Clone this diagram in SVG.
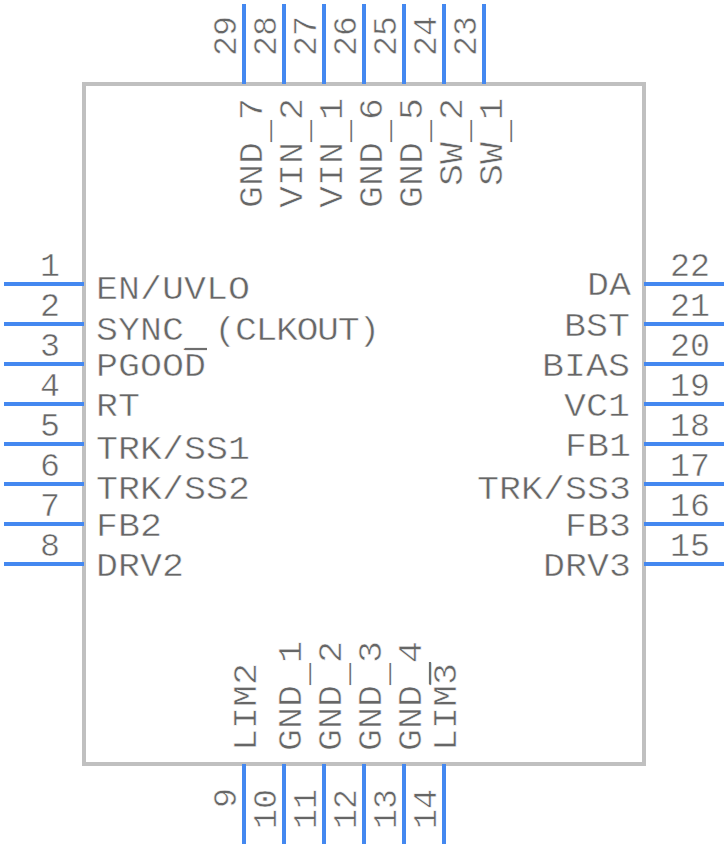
<svg xmlns="http://www.w3.org/2000/svg" width="728" height="848" viewBox="0 0 728 848">
<style>
text{font-family:"Liberation Mono",monospace;font-size:33.3px;fill:#666;stroke:#fff;stroke-width:.5px}
.e{text-anchor:end}
.u{stroke:none;fill:#707070}
.pin line{stroke:#4488f0;stroke-width:4}
.bar{stroke:#6e6e6e;stroke-width:2.2}
</style>
<rect width="728" height="848" fill="#fff"/>
<g id="body"><rect x="84" y="84" width="560" height="680" fill="#fff" stroke="#c0c0c0" stroke-width="4"/></g>
<g id="connectors" class="pin">
<line x1="4" y1="284" x2="84" y2="284"/><line x1="4" y1="324" x2="84" y2="324"/><line x1="4" y1="364" x2="84" y2="364"/><line x1="4" y1="404" x2="84" y2="404"/><line x1="4" y1="444" x2="84" y2="444"/><line x1="4" y1="484" x2="84" y2="484"/><line x1="4" y1="524" x2="84" y2="524"/><line x1="4" y1="564" x2="84" y2="564"/>
<line x1="644" y1="284" x2="724" y2="284"/><line x1="644" y1="324" x2="724" y2="324"/><line x1="644" y1="364" x2="724" y2="364"/><line x1="644" y1="404" x2="724" y2="404"/><line x1="644" y1="444" x2="724" y2="444"/><line x1="644" y1="484" x2="724" y2="484"/><line x1="644" y1="524" x2="724" y2="524"/><line x1="644" y1="564" x2="724" y2="564"/>
<line x1="244" y1="4" x2="244" y2="84"/><line x1="284" y1="4" x2="284" y2="84"/><line x1="324" y1="4" x2="324" y2="84"/><line x1="364" y1="4" x2="364" y2="84"/><line x1="404" y1="4" x2="404" y2="84"/><line x1="444" y1="4" x2="444" y2="84"/><line x1="484" y1="4" x2="484" y2="84"/>
<line x1="244" y1="764" x2="244" y2="844"/><line x1="284" y1="764" x2="284" y2="844"/><line x1="324" y1="764" x2="324" y2="844"/><line x1="364" y1="764" x2="364" y2="844"/><line x1="404" y1="764" x2="404" y2="844"/><line x1="444" y1="764" x2="444" y2="844"/>
</g>
<g id="left-pins">
<text class="e" x="60" y="276">1</text><text class="e" x="60" y="316">2</text><text class="e" x="60" y="356">3</text><text class="e" x="60" y="396">4</text><text class="e" x="60" y="436">5</text><text class="e" x="60" y="476">6</text><text class="e" x="60" y="516">7</text><text class="e" x="60" y="556">8</text>
<text x="96" y="299" textLength="154" lengthAdjust="spacingAndGlyphs">EN/UVLO</text>
<text transform="translate(96 340) scale(1.1 1)">SYNC<tspan class="u" dy="5.5">_</tspan><tspan dy="-5.5" dx="-11" letter-spacing="-1.3"> (CLKOUT)</tspan></text>
<text x="96" y="376" textLength="110" lengthAdjust="spacingAndGlyphs">PGOOD</text><line class="bar" x1="185" y1="349" x2="207" y2="349"/>
<text x="96" y="416" textLength="44" lengthAdjust="spacingAndGlyphs">RT</text>
<text x="96" y="459" textLength="154" lengthAdjust="spacingAndGlyphs">TRK/SS1</text>
<text x="96" y="499" textLength="154" lengthAdjust="spacingAndGlyphs">TRK/SS2</text>
<text x="96" y="536" textLength="66" lengthAdjust="spacingAndGlyphs">FB2</text>
<text x="96" y="576" textLength="88" lengthAdjust="spacingAndGlyphs">DRV2</text>
</g>
<g id="right-pins">
<text x="670" y="276">22</text><text x="670" y="316">21</text><text x="670" y="356">20</text><text x="670" y="396">19</text><text x="670" y="436">18</text><text x="670" y="476">17</text><text x="670" y="516">16</text><text x="670" y="556">15</text>
<text x="587" y="295" textLength="44" lengthAdjust="spacingAndGlyphs">DA</text>
<text x="564" y="336" textLength="66" lengthAdjust="spacingAndGlyphs">BST</text>
<text x="542" y="376" textLength="88" lengthAdjust="spacingAndGlyphs">BIAS</text>
<text x="564" y="416" textLength="66" lengthAdjust="spacingAndGlyphs">VC1</text>
<text x="565" y="456" textLength="66" lengthAdjust="spacingAndGlyphs">FB1</text>
<text x="477" y="499" textLength="154" lengthAdjust="spacingAndGlyphs">TRK/SS3</text>
<text x="565" y="536" textLength="66" lengthAdjust="spacingAndGlyphs">FB3</text>
<text x="543" y="576" textLength="88" lengthAdjust="spacingAndGlyphs">DRV3</text>
</g>
<g id="top-pins">
<text transform="translate(236 16) rotate(-90)" class="e">29</text><text transform="translate(276 16) rotate(-90)" class="e">28</text><text transform="translate(316 16) rotate(-90)" class="e">27</text><text transform="translate(356 16) rotate(-90)" class="e">26</text><text transform="translate(396 16) rotate(-90)" class="e">25</text><text transform="translate(436 16) rotate(-90)" class="e">24</text><text transform="translate(476 16) rotate(-90)" class="e">23</text>
<text transform="translate(262 208) rotate(-90) scale(1.1 1)">GND<tspan class="u" dy="5.5">_</tspan><tspan dy="-5.5">7</tspan></text>
<text transform="translate(302 208) rotate(-90) scale(1.1 1)">VIN<tspan class="u" dy="5.5">_</tspan><tspan dy="-5.5">2</tspan></text>
<text transform="translate(342 208) rotate(-90) scale(1.1 1)">VIN<tspan class="u" dy="5.5">_</tspan><tspan dy="-5.5">1</tspan></text>
<text transform="translate(382 208) rotate(-90) scale(1.1 1)">GND<tspan class="u" dy="5.5">_</tspan><tspan dy="-5.5">6</tspan></text>
<text transform="translate(422 208) rotate(-90) scale(1.1 1)">GND<tspan class="u" dy="5.5">_</tspan><tspan dy="-5.5">5</tspan></text>
<text transform="translate(462 186) rotate(-90) scale(1.1 1)">SW<tspan class="u" dy="5.5">_</tspan><tspan dy="-5.5">2</tspan></text>
<text transform="translate(502 186) rotate(-90) scale(1.1 1)">SW<tspan class="u" dy="5.5">_</tspan><tspan dy="-5.5">1</tspan></text>
</g>
<g id="bottom-pins">
<text transform="translate(236 808) rotate(-90)">9</text>
<text transform="translate(276 829) rotate(-90)">10</text><text transform="translate(316 829) rotate(-90)">11</text><text transform="translate(356 829) rotate(-90)">12</text><text transform="translate(396 829) rotate(-90)">13</text><text transform="translate(436 829) rotate(-90)">14</text>
<text transform="translate(256 751) rotate(-90) scale(1.1 1)">LIM2</text>
<text transform="translate(301 751) rotate(-90) scale(1.1 1)">GND<tspan class="u" dy="5.5">_</tspan><tspan dy="-5.5">1</tspan></text>
<text transform="translate(341 751) rotate(-90) scale(1.1 1)">GND<tspan class="u" dy="5.5">_</tspan><tspan dy="-5.5">2</tspan></text>
<text transform="translate(381 751) rotate(-90) scale(1.1 1)">GND<tspan class="u" dy="5.5">_</tspan><tspan dy="-5.5">3</tspan></text>
<text transform="translate(421 751) rotate(-90) scale(1.1 1)">GND<tspan class="u" dy="5.5">_</tspan><tspan dy="-5.5">4</tspan></text>
<text transform="translate(456 751) rotate(-90) scale(1.1 1)">LIM3</text>
<line class="bar" x1="430" y1="662" x2="430" y2="684"/>
</g>
</svg>
